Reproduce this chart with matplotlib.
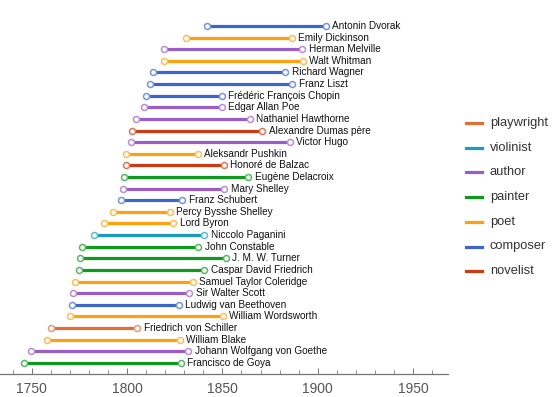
import matplotlib
matplotlib.use("Agg")
import matplotlib.pyplot as plt
from matplotlib.lines import Line2D
from matplotlib.colors import to_rgb
import numpy as np

plt.rcParams['font.family'] = ['Liberation Sans', 'DejaVu Sans']

# people listed bottom -> top
names = ['Francisco de Goya', 'Johann Wolfgang von Goethe', 'William Blake', 'Friedrich von Schiller',
         'William Wordsworth', 'Ludwig van Beethoven', 'Sir Walter Scott', 'Samuel Taylor Coleridge',
         'Caspar David Friedrich', 'J. M. W. Turner', 'John Constable', 'Niccolo Paganini',
         'Lord Byron', 'Percy Bysshe Shelley', 'Franz Schubert', 'Mary Shelley',
         'Eugène Delacroix', 'Honoré de Balzac', 'Aleksandr Pushkin', 'Victor Hugo',
         'Alexandre Dumas père', 'Nathaniel Hawthorne', 'Edgar Allan Poe', 'Frédéric François Chopin',
         'Franz Liszt', 'Richard Wagner', 'Walt Whitman', 'Herman Melville',
         'Emily Dickinson', 'Antonin Dvorak']
born = [1746.2, 1749.7, 1757.9, 1759.9, 1770.3, 1770.9, 1771.6, 1772.8,
        1774.7, 1775.3, 1776.5, 1782.8, 1788.1, 1792.6, 1797.1, 1797.7,
        1798.3, 1799.4, 1799.4, 1802.2, 1802.6, 1804.5, 1809.1, 1810.2,
        1811.8, 1813.4, 1819.4, 1819.6, 1830.9, 1841.7]
died = [1828.3, 1832.2, 1827.6, 1805.4, 1850.3, 1827.2, 1832.7, 1834.6,
        1840.4, 1851.9, 1837.3, 1840.4, 1824.3, 1822.5, 1828.9, 1851.1,
        1863.6, 1850.6, 1837.1, 1885.4, 1870.9, 1864.4, 1849.8, 1849.8,
        1886.6, 1883.1, 1892.2, 1891.8, 1886.4, 1904.3]
jobs = ['painter', 'author', 'poet', 'playwright', 'poet', 'composer', 'author', 'poet',
        'painter', 'painter', 'painter', 'violinist', 'poet', 'poet', 'composer', 'author',
        'painter', 'novelist', 'poet', 'author', 'novelist', 'author', 'author', 'composer',
        'composer', 'composer', 'poet', 'author', 'poet', 'composer']

legend_order = ['playwright', 'violinist', 'author', 'painter', 'poet', 'composer', 'novelist']
colors = {'playwright': '#dd7033', 'violinist': '#1a9cbf', 'author': '#9a5cc6',
          'painter': '#0f9a1f', 'poet': '#ffa00f', 'composer': '#3b66cc', 'novelist': '#cc3b12'}

def lighter(c, f=0.3):
    r = np.array(to_rgb(c))
    return tuple(r + (1 - r) * f)

fig = plt.figure(figsize=(5.59, 3.97), dpi=100)
ax = fig.add_axes([0.0, 0.058, 0.8014, 0.906])

for i in range(len(names)):
    c = colors[jobs[i]]
    ax.plot([born[i], died[i]], [i, i], color=c, lw=2.3, solid_capstyle='butt', zorder=2)
    ax.plot([born[i], died[i]], [i, i], ls='none', marker='o', ms=4.3, mfc='white',
            mec=lighter(c), mew=1.1, zorder=3)
    ax.text(died[i] + 3.4, i, names[i], fontsize=7.2, va='center', ha='left', color='#111111')

ax.set_xlim(1733.4, 1968.3)
ax.set_ylim(-0.95, 30)
ax.set_yticks([])
for s in ['left', 'right', 'top']:
    ax.spines[s].set_visible(False)
ax.spines['bottom'].set_color('#777777')
ax.spines['bottom'].set_linewidth(0.9)
ax.set_xticks([1750, 1800, 1850, 1900, 1950])
ax.set_xticks(np.arange(1740, 1970, 10), minor=True)
ax.tick_params(axis='x', which='major', direction='in', length=4, width=0.7, color='#777777',
               labelsize=10, labelcolor='#555555', pad=6)
ax.tick_params(axis='x', which='minor', direction='in', length=3, width=0.6, color='#777777')

# legend drawn by hand on the right
for k, job in enumerate(legend_order):
    y = 1 - (123 + k * 24.7) / 397
    fig.add_artist(Line2D([466 / 559, 482 / 559], [y, y], color=colors[job], lw=2.3,
                          transform=fig.transFigure))
    fig.text(490 / 559, y, job, fontsize=9.3, va='center', ha='left', color='#333333')

fig.savefig('out.png', dpi=100)
